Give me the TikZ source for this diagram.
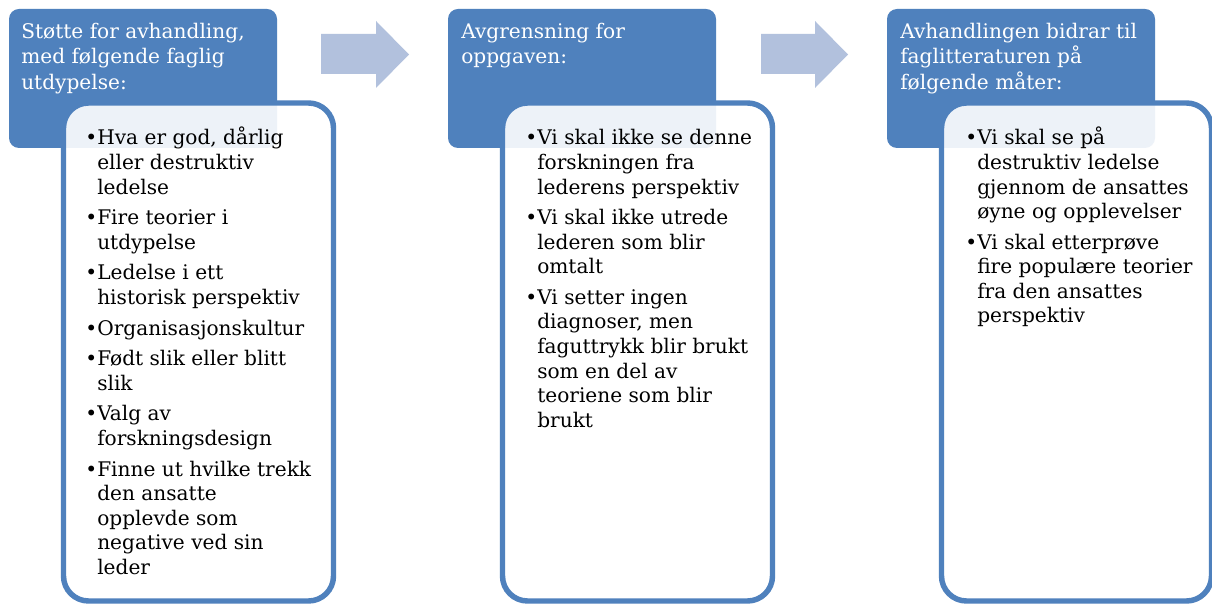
\documentclass[tikz,border=0pt]{standalone}
\usepackage{fontspec}
\setmainfont{DejaVu Serif}
\definecolor{hblue}{RGB}{79,129,189}
\definecolor{ablue}{RGB}{178,193,221}
\newcommand\itm{\par\noindent\hangindent=9pt\hangafter=1\makebox[9pt][l]{•}}
\newcommand\nl{\newline}
\newenvironment{blist}{\begin{minipage}[t]{240pt}\raggedright\setlength\parskip{4.6pt}\lineskiplimit=-30pt\baselineskip=18.4pt}{\end{minipage}}
\begin{document}
\begin{tikzpicture}[x=0.75pt,y=-0.75pt,
  hdr/.style={fill=hblue, rounded corners=7.5pt, minimum width=201pt, minimum height=104.25pt, inner sep=0pt, outer sep=0pt},
  card/.style={draw=hblue, line width=4.1pt, fill=white, fill opacity=0.9, text opacity=1, rounded corners=18.75pt, minimum width=202.5pt, minimum height=373.5pt, inner sep=0pt},
  htext/.style={anchor=base west, inner sep=0pt, text=white, font=\fontsize{15.1pt}{19.1pt}\selectfont},
  btext/.style={anchor=base west, inner sep=0pt, font=\fontsize{15.1pt}{18.4pt}\selectfont},
  flow/.style={fill=ablue}
]
\useasboundingbox (0,0) rectangle (1212,605);
\fill[white] (0,0) rectangle (1212,605);

% headers
\node[hdr] (h1) at (143,78.5) {};
\node[hdr] (h2) at (582,78.5) {};
\node[hdr] (h3) at (1021,78.5) {};

% cards
\node[card] (c1) at (198.5,352) {};
\node[card] (c2) at (637.5,352) {};
\node[card] (c3) at (1076.5,352) {};

% arrows
\fill[flow] (321,34) -- (376,34) -- (376,21) -- (409,54.5) -- (376,88) -- (376,74) -- (321,74) -- cycle;
\fill[flow] (761,34) -- (815,34) -- (815,21) -- (848,54.5) -- (815,88) -- (815,74) -- (761,74) -- cycle;

% header texts
\node[htext] (t1) at (21,38.3) {\begin{tabular}[t]{@{}l@{}}Støtte for avhandling,\\ med følgende faglig\\ utdypelse:\end{tabular}};
\node[htext] (t2) at (461,38.3) {\begin{tabular}[t]{@{}l@{}}Avgrensning for\\ oppgaven:\end{tabular}};
\node[htext] (t3) at (900,38.3) {\begin{tabular}[t]{@{}l@{}}Avhandlingen bidrar til\\ faglitteraturen på\\ følgende måter:\end{tabular}};

% body texts
\node[btext] (b1) at (85,145) {\begin{blist}
\itm Hva er god, dårlig\nl eller destruktiv\nl ledelse
\itm Fire teorier i\nl utdypelse
\itm Ledelse i ett\nl historisk perspektiv
\itm Organisasjonskultur
\itm Født slik eller blitt\nl slik
\itm Valg av\nl forskningsdesign
\itm Finne ut hvilke trekk\nl den ansatte\nl opplevde som\nl negative ved sin\nl leder
\end{blist}};

\node[btext] (b2) at (525,145) {\begin{blist}
\itm Vi skal ikke se denne\nl forskningen fra\nl lederens perspektiv
\itm Vi skal ikke utrede\nl lederen som blir\nl omtalt
\itm Vi setter ingen\nl diagnoser, men\nl faguttrykk blir brukt\nl som en del av\nl teoriene som blir\nl brukt
\end{blist}};

\node[btext] (b3) at (965,145) {\begin{blist}
\itm Vi skal se på\nl destruktiv ledelse\nl gjennom de ansattes\nl øyne og opplevelser
\itm Vi skal etterprøve\nl fire populære teorier\nl fra den ansattes\nl perspektiv
\end{blist}};
\end{tikzpicture}
\end{document}
